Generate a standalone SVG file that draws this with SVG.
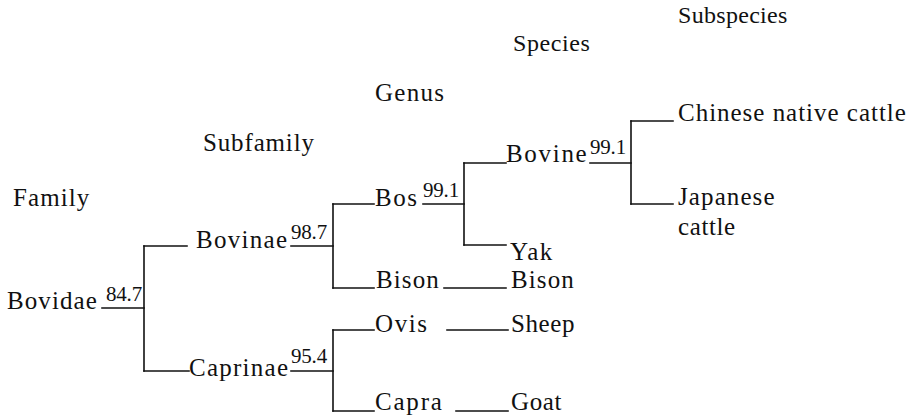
<svg xmlns="http://www.w3.org/2000/svg" width="912" height="416" viewBox="0 0 912 416">
<style>
.c line{stroke:#111;stroke-width:1.6;stroke-linecap:square}
</style>
<rect width="912" height="416" fill="#fff"/>
<g fill="#111">
<g id="ranks">
<text x="13" y="206" font-family="Liberation Serif" font-size="25" letter-spacing="1.1">Family</text>
<text x="203" y="151" font-family="Liberation Serif" font-size="25" letter-spacing="0.85">Subfamily</text>
<text x="375" y="101" font-family="Liberation Serif" font-size="25" letter-spacing="1.3">Genus</text>
<text x="513" y="51" font-family="Liberation Serif" font-size="24" letter-spacing="0.6">Species</text>
<text x="678" y="23" font-family="Liberation Serif" font-size="24" letter-spacing="0.3">Subspecies</text>
</g>
<g id="bovidae"><text x="7" y="309" font-family="Liberation Serif" font-size="25" letter-spacing="1.1">Bovidae</text><text x="106" y="301" font-family="Liberation Serif" font-size="21" letter-spacing="-0.2">84.7</text></g>
<g id="bovinae"><text x="196" y="248" font-family="Liberation Serif" font-size="25" letter-spacing="1.3">Bovinae</text><text x="291" y="239" font-family="Liberation Serif" font-size="21" letter-spacing="-0.2">98.7</text></g>
<g id="caprinae"><text x="189" y="376" font-family="Liberation Serif" font-size="25" letter-spacing="1.25">Caprinae</text><text x="291" y="363" font-family="Liberation Serif" font-size="21" letter-spacing="-0.2">95.4</text></g>
<g id="bos"><text x="375" y="206" font-family="Liberation Serif" font-size="25" letter-spacing="1.5">Bos</text><text x="423" y="197" font-family="Liberation Serif" font-size="21" letter-spacing="-0.2">99.1</text></g>
<g id="bison-genus"><text x="376" y="288" font-family="Liberation Serif" font-size="25" letter-spacing="1.1">Bison</text></g>
<g id="ovis"><text x="375" y="332" font-family="Liberation Serif" font-size="25" letter-spacing="1.6">Ovis</text></g>
<g id="capra"><text x="375" y="410" font-family="Liberation Serif" font-size="25" letter-spacing="1.8">Capra</text></g>
<g id="bovine"><text x="506" y="162" font-family="Liberation Serif" font-size="25" letter-spacing="1.7">Bovine</text><text x="590" y="154" font-family="Liberation Serif" font-size="21" letter-spacing="-0.2">99.1</text></g>
<g id="yak"><text x="510" y="260" font-family="Liberation Serif" font-size="25" letter-spacing="1.6">Yak</text></g>
<g id="bison-species"><text x="511" y="288" font-family="Liberation Serif" font-size="25" letter-spacing="1.1">Bison</text></g>
<g id="sheep"><text x="511" y="332" font-family="Liberation Serif" font-size="25" letter-spacing="0.6">Sheep</text></g>
<g id="goat"><text x="511" y="410" font-family="Liberation Serif" font-size="25" letter-spacing="0.6">Goat</text></g>
<g id="chinese-native-cattle"><text x="678" y="121" font-family="Liberation Serif" font-size="25" letter-spacing="0.98">Chinese native cattle</text></g>
<g id="japanese-cattle"><text x="678" y="205" font-family="Liberation Serif" font-size="25" letter-spacing="1.1">Japanese</text><text x="678" y="235" font-family="Liberation Serif" font-size="25" letter-spacing="0.6">cattle</text></g>
</g>
<g class="c" id="connectors">
<line x1="102" y1="308" x2="144" y2="308"/>
<line x1="144" y1="246" x2="144" y2="371"/>
<line x1="144" y1="246" x2="187" y2="246"/>
<line x1="144" y1="371" x2="189" y2="371"/>
<line x1="291" y1="246" x2="333" y2="246"/>
<line x1="333" y1="204" x2="333" y2="288"/>
<line x1="333" y1="204" x2="374" y2="204"/>
<line x1="333" y1="288" x2="374" y2="288"/>
<line x1="291" y1="371" x2="333" y2="371"/>
<line x1="333" y1="330" x2="333" y2="411"/>
<line x1="333" y1="330" x2="374" y2="330"/>
<line x1="333" y1="411" x2="374" y2="411"/>
<line x1="423" y1="204" x2="464" y2="204"/>
<line x1="464" y1="163" x2="464" y2="245"/>
<line x1="464" y1="163" x2="506" y2="163"/>
<line x1="464" y1="245" x2="506" y2="245"/>
<line x1="444" y1="288" x2="506" y2="288"/>
<line x1="447" y1="330" x2="508" y2="330"/>
<line x1="456" y1="411" x2="508" y2="411"/>
<line x1="590" y1="163" x2="631" y2="163"/>
<line x1="631" y1="121" x2="631" y2="204"/>
<line x1="631" y1="121" x2="673" y2="121"/>
<line x1="631" y1="204" x2="673" y2="204"/>
</g>
</svg>
